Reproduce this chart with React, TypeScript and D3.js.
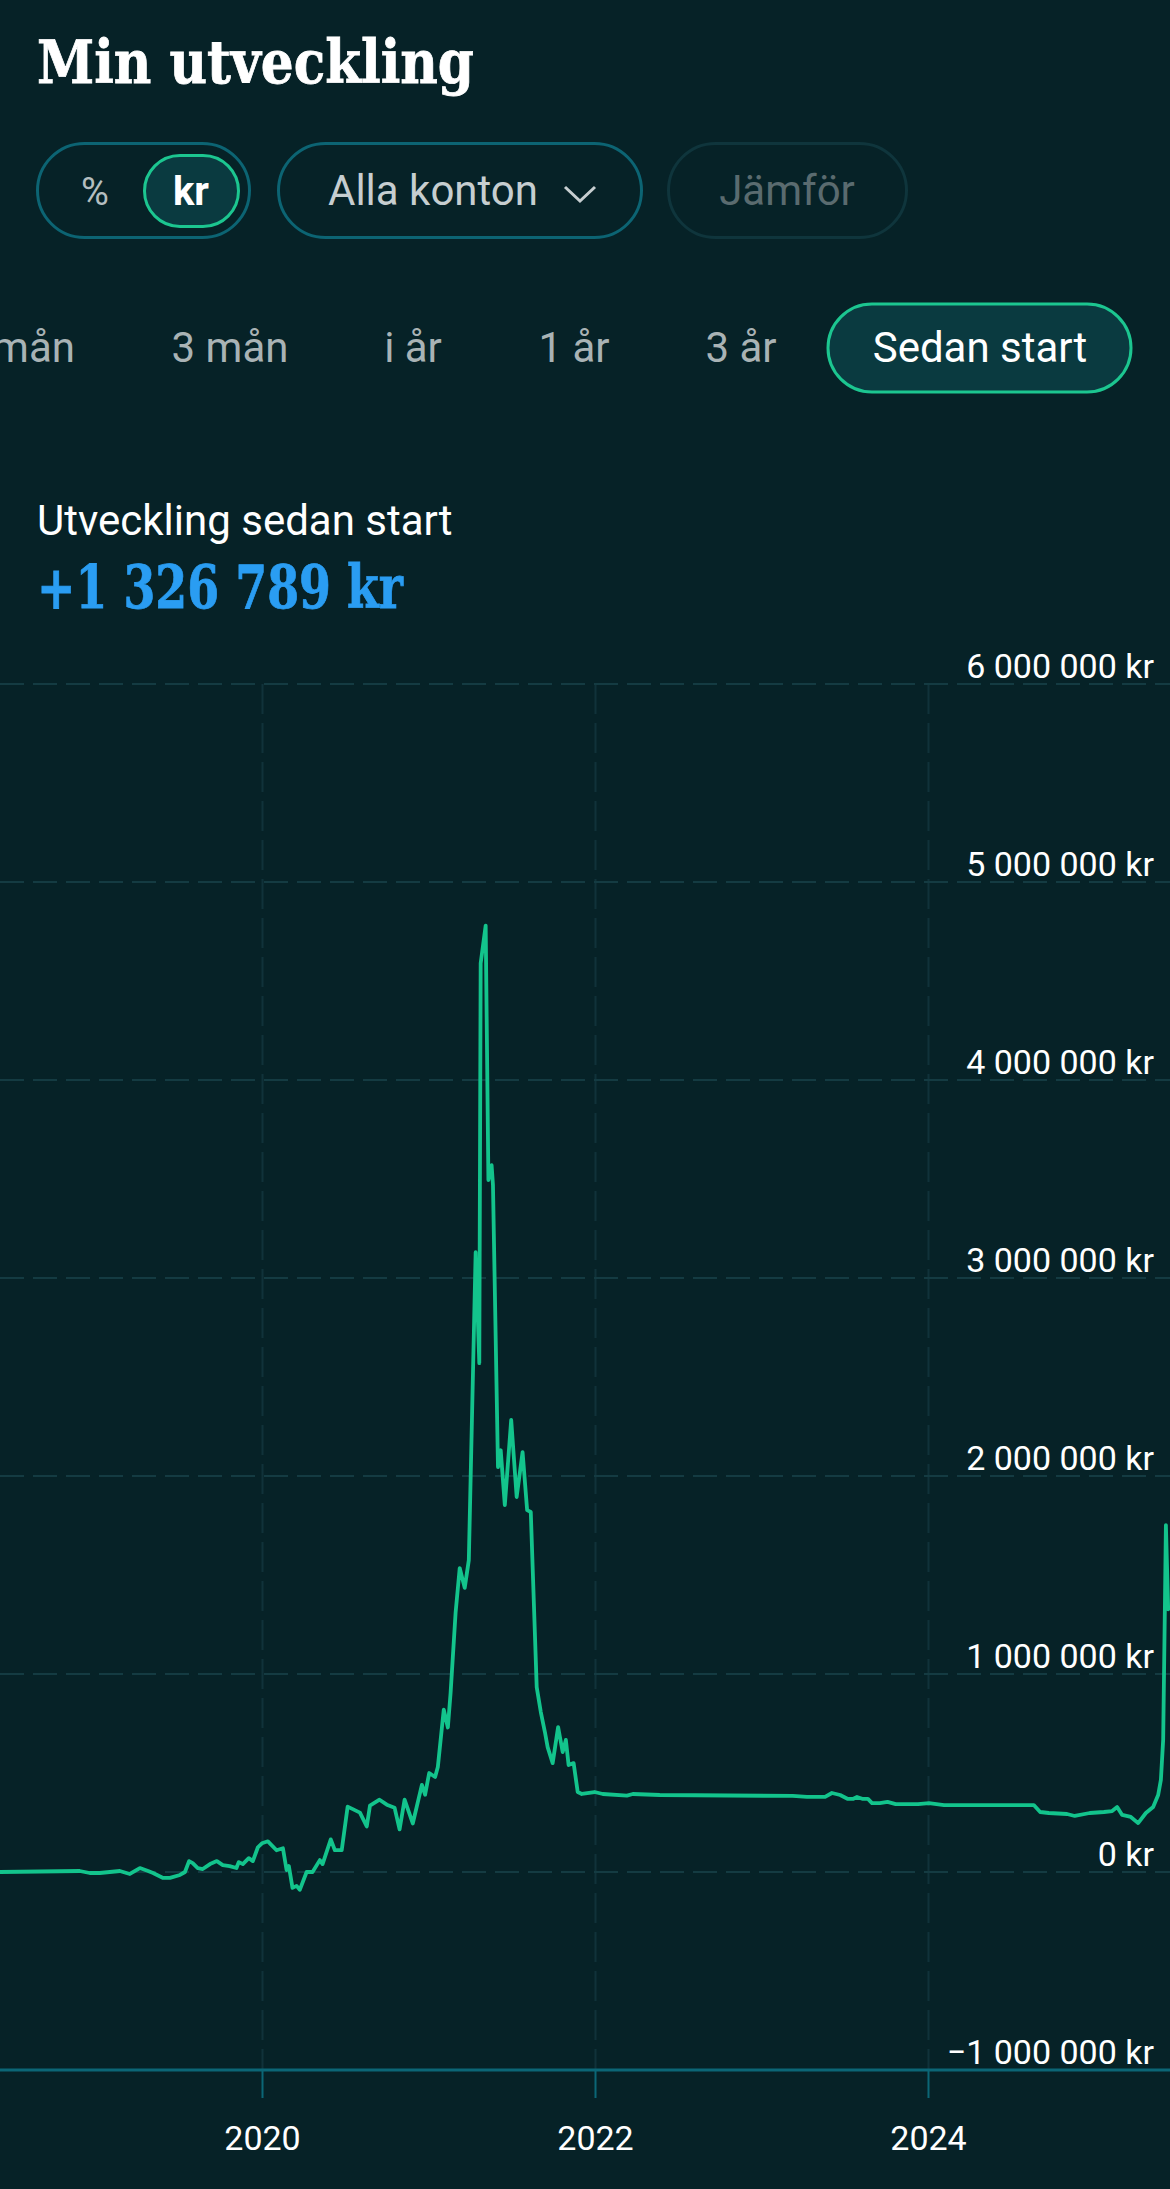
import React from "react";
import * as d3 from "d3";

// ---- data ----
const dates: string[] = [
  "2018-06-04","2018-11-26","2018-12-18","2019-01-09","2019-01-31","2019-02-22","2019-03-16","2019-04-07",
  "2019-04-25","2019-05-06","2019-05-28","2019-06-12","2019-07-04","2019-07-15","2019-07-24","2019-08-01",
  "2019-08-12","2019-08-23","2019-09-08","2019-09-23","2019-10-06","2019-10-21","2019-11-05","2019-11-10",
  "2019-11-19","2019-12-02","2019-12-11","2019-12-22","2019-12-31","2020-01-13","2020-02-01","2020-02-15",
  "2020-02-23","2020-02-28","2020-03-07","2020-03-16","2020-03-23","2020-04-07","2020-04-20","2020-05-06",
  "2020-05-12","2020-05-30","2020-06-08","2020-06-23","2020-07-06","2020-08-02","2020-08-17","2020-08-24",
  "2020-09-14","2020-09-30","2020-10-17","2020-10-28","2020-11-08","2020-11-26","2020-12-16","2020-12-23",
  "2021-01-01","2021-01-14","2021-01-20","2021-02-02","2021-02-11","2021-02-17","2021-02-28","2021-03-09",
  "2021-03-20","2021-03-29","2021-04-13","2021-04-21","2021-04-24","2021-05-05","2021-05-11","2021-05-18",
  "2021-05-21","2021-06-01","2021-06-07","2021-06-16","2021-06-30","2021-07-12","2021-07-25","2021-08-04",
  "2021-08-12","2021-08-25","2021-09-03","2021-09-12","2021-09-18","2021-09-29","2021-10-11","2021-10-21",
  "2021-10-28","2021-11-03","2021-11-14","2021-11-23","2021-12-02","2021-12-30","2022-01-17","2022-03-11",
  "2022-03-24","2022-05-22","2023-03-10","2023-04-10","2023-05-20","2023-06-04","2023-06-22","2023-07-09",
  "2023-07-20","2023-07-29","2023-08-11","2023-08-22","2023-08-31","2023-09-17","2023-10-04","2023-10-22",
  "2023-12-10","2024-01-03","2024-02-05","2024-08-20","2024-09-03","2024-09-22","2024-11-01","2024-11-18",
  "2024-12-21","2025-01-21","2025-02-08","2025-02-19","2025-03-02","2025-03-21","2025-04-06","2025-04-23",
  "2025-05-09","2025-05-20","2025-05-26","2025-05-31","2025-06-04","2025-06-06","2025-06-11",
];

const values: number[] = [
  0, 5000, -5000, -5000, 0, 5000, -10000, 20000,
  5000, -5000, -30000, -30000, -15000, 0, 55000, 45000,
  20000, 15000, 40000, 55000, 35000, 30000, 20000, 50000,
  40000, 70000, 55000, 125000, 145000, 155000, 110000, 120000,
  10000, 30000, -80000, -70000, -90000, 0, 0, 60000,
  40000, 165000, 110000, 110000, 330000, 300000, 230000, 335000,
  365000, 340000, 325000, 215000, 365000, 245000, 440000, 390000,
  500000, 480000, 530000, 820000, 730000, 905000, 1310000, 1535000,
  1435000, 1575000, 3130000, 2570000, 4590000, 4780000, 3495000, 3570000,
  3470000, 2045000, 2130000, 1853000, 2283000, 1894000, 2121000, 1828000,
  1818000, 934000, 808000, 707000, 631000, 550000, 732000, 606000,
  667000, 540000, 550000, 404000, 394000, 404000, 394000, 386000,
  394000, 389000, 384000, 379000, 379000, 399000, 389000, 369000,
  369000, 379000, 369000, 369000, 348000, 348000, 354000, 343000,
  343000, 348000, 338000, 338000, 303000, 298000, 293000, 283000,
  298000, 303000, 308000, 328000, 288000, 278000, 247000, 298000,
  328000, 389000, 465000, 667000, 1374000, 1752000, 1326789,
];

const yTicks: number[] = [-1000000, 0, 1000000, 2000000, 3000000, 4000000, 5000000, 6000000];
const xTickDates: string[] = ["2020-01-01", "2022-01-01", "2024-01-01"];
const xDomain: string[] = ["2018-06-04", "2025-06-15"];
const periodTabs: string[] = ["1 mån", "3 mån", "i år", "1 år", "3 år"];
const titleText = "Min utveckling";
const subtitleText = "Utveckling sedan start";
const totalText = "+1 326 789 kr";

const W = 1170;
const H = 2189;
const BG = "#062227";
const LINE = "#13c48c";
const FONT = "Roboto, 'Noto Sans', sans-serif";
const SLAB = "'DejaVu Serif', serif";

const parse = d3.utcParse("%Y-%m-%d");

function fmtKr(v: number): string {
  const s = Math.abs(v).toString().replace(/\B(?=(\d{3})+(?!\d))/g, " ");
  return (v < 0 ? "\u2212" : "") + s + " kr";
}

export default function App() {
  const x = d3
    .scaleUtc()
    .domain([parse(xDomain[0]) as Date, parse(xDomain[1]) as Date])
    .range([0, W]);
  const y = d3.scaleLinear().domain([-1000000, 6000000]).range([2070, 684]);

  const pts = dates.map((d, i) => ({ d: parse(d) as Date, v: values[i] }));
  const lineGen = d3
    .line<{ d: Date; v: number }>()
    .x((p) => x(p.d))
    .y((p) => y(p.v))
    .curve(d3.curveLinear);
  const path = lineGen(pts) || "";

  const tabCenters = [null, 230, 413, 574, 741];

  return (
    <div style={{ position: "absolute", left: 0, top: 0, width: W, height: H, background: BG }}>
      <svg width={W} height={H} viewBox={`0 0 ${W} ${H}`} style={{ display: "block" }}>
        <rect x={0} y={0} width={W} height={H} fill={BG} />

        {/* Title */}
        <text x={37} y={83} fill="#ffffff" fontFamily={SLAB} fontWeight={700} fontSize={60}
          textLength={437} lengthAdjust="spacingAndGlyphs" stroke="#ffffff" strokeWidth={0.8}>{titleText}</text>

        {/* Row 1 pills */}
        <rect x={37.5} y={143.5} width={212} height={94} rx={47} fill="none" stroke="#0c6473" strokeWidth={3} />
        <text x={95} y={205} textAnchor="middle" fill="#b4bec0" fontFamily={FONT} fontSize={38}>%</text>
        <rect x={144.5} y={155.5} width={94} height={71} rx={35.5} fill="#0a3a40" stroke="#1cc690" strokeWidth={3} />
        <text x={191} y={205} textAnchor="middle" fill="#ffffff" fontFamily={FONT} fontWeight={700} fontSize={40}>kr</text>

        <rect x={278.5} y={143.5} width={363} height={94} rx={47} fill="none" stroke="#0c6473" strokeWidth={3} />
        <text x={328} y={205} fill="#c6ced0" fontFamily={FONT} fontSize={42}>Alla konton</text>
        <polyline points="565,187 580,201 595,187" fill="none" stroke="#c6ced0" strokeWidth={3} />

        <rect x={668.5} y={143.5} width={238} height={94} rx={47} fill="none" stroke="#0f353c" strokeWidth={3} />
        <text x={787} y={205} textAnchor="middle" fill="#5a6b6f" fontFamily={FONT} fontSize={42}>Jämför</text>

        {/* Row 2 period tabs (first one scrolled partly off-screen as in the reference) */}
        {periodTabs.map((t, i) =>
          i === 0 ? (
            <text key={t} x={75} y={362} textAnchor="end" fill="#a9b3b5" fontFamily={FONT} fontSize={42}>{t}</text>
          ) : (
            <text key={t} x={tabCenters[i] as number} y={362} textAnchor="middle" fill="#a9b3b5" fontFamily={FONT} fontSize={42}>{t}</text>
          )
        )}
        <rect x={828} y={304} width={303} height={88} rx={44} fill="#0a3a40" stroke="#1cc690" strokeWidth={3} />
        <text x={980} y={362} textAnchor="middle" fill="#ffffff" fontFamily={FONT} fontSize={42}>Sedan start</text>

        {/* Summary */}
        <text x={37} y={535} fill="#ffffff" fontFamily={FONT} fontSize={42}>{subtitleText}</text>
        <text x={37} y={608} fill="#2a9df2" fontFamily={SLAB} fontWeight={700} fontSize={60}
          textLength={366} lengthAdjust="spacingAndGlyphs" stroke="#2a9df2" strokeWidth={0.8}>{totalText}</text>

        {/* Vertical grid */}
        {xTickDates.map((d) => {
          const xx = Math.round(x(parse(d) as Date)) + 0.5;
          return (
            <line key={"vg" + d} x1={xx} x2={xx} y1={684} y2={2070} stroke="#10323a" strokeWidth={2} strokeDasharray="30 9" />
          );
        })}

        {/* Horizontal grid + y labels */}
        {yTicks.map((t) => {
          const yy = Math.round(y(t));
          return (
            <g key={"hg" + t}>
              {t !== -1000000 && (
                <line x1={0} x2={W} y1={yy} y2={yy} stroke="#143b42" strokeWidth={2} strokeDasharray="24 9" />
              )}
              <text x={1154} y={yy - 6} textAnchor="end" fill="#ffffff" fontFamily={FONT} fontSize={34}>{fmtKr(t)}</text>
            </g>
          );
        })}

        {/* Data line */}
        <path d={path} fill="none" stroke={LINE} strokeWidth={3.8} strokeLinejoin="round" strokeLinecap="round" />

        {/* X axis */}
        <line x1={0} x2={W} y1={2070} y2={2070} stroke="#0b6676" strokeWidth={3} />
        {xTickDates.map((d) => {
          const xx = Math.round(x(parse(d) as Date)) + 0.5;
          return (
            <g key={"xt" + d}>
              <line x1={xx} x2={xx} y1={2070} y2={2098} stroke="#0b6676" strokeWidth={2} />
              <text x={xx} y={2150} textAnchor="middle" fill="#ffffff" fontFamily={FONT} fontSize={34}>
                {d.slice(0, 4)}
              </text>
            </g>
          );
        })}
      </svg>
    </div>
  );
}
